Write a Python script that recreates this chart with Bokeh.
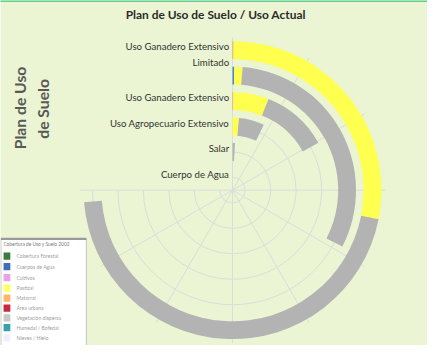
import numpy as np
from bokeh.plotting import figure
from bokeh.models import Range1d
from bokeh.embed import file_html
from bokeh.resources import INLINE
from bokeh.core.properties import value

# ---------------- data ----------------
TITLE = "Plan de Uso de Suelo / Uso Actual"
LEFT_TITLE = ["Plan de Uso", "de Suelo"]

# radial categories, outermost ring first
CATEGORIES = ["Uso Ganadero Extensivo\nLimitado", "", "Uso Ganadero Extensivo",
              "Uso Agropecuario Extensivo", "Salar", "Cuerpo de Agua"]

SERIES = ["Matorral", "Cuerpos de Agua", "Pastizal", "Vegetación dispersa"]
SERIES_COLORS = ["#f2a23c", "#4a86c8", "#ffff4f", "#b3b3b3"]
MATORRAL = [0.14, 0.0, 0.18, 0.0, 0.0, 0.0]
AGUA = [0.0, 0.27, 0.0, 0.0, 0.0, 0.0]
PASTIZAL = [33.6, 1.3, 7.0, 1.7, 0.0, 0.0]
VEGETACION = [54.7, 37.5, 13.2, 6.8, 1.0, 0.0]
SERIES_VALUES = [MATORRAL, AGUA, PASTIZAL, VEGETACION]

VALUE_MAX = 90      # value at the end of the 270 degree sweep
VALUE_STEP = 10     # angular grid step

LEGEND_TITLE = "Cobertura de Uso y Suelo 2002"
LEGEND_LABELS = ["Cobertura Forestal", "Cuerpos de Agua", "Cultivos", "Pastizal",
                 "Matorral", "Área urbana", "Vegetación dispersa",
                 "Humedal / Bofedal", "Nieves / Hielo"]
LEGEND_COLORS = ["#3d7a3d", "#3f6fb5", "#e8a2e8", "#ffff66", "#ffb566",
                 "#c8283c", "#c8c8c8", "#3aa0b0", "#f4eefa"]

# ---------------- layout ----------------
BG = "#ebf5d3"
W, H = 427, 345                 # figure size that fits the window
RW, RH = 443.0, 361.0           # design space (reference pixels)
S = W / RW                      # uniform scale
VH = H / S                      # visible design height
Y0 = (RH - VH) / 2

CX, CY = 240.7, -198.3          # chart centre (design px, y negated)
R_OUT = 158.5
N = len(CATEGORIES)
CELL = R_OUT / N
BAR = 0.7 * CELL
SWEEP = 1.5 * np.pi
FONT = value("Lato")


def px(v):
    return "%.2fpx" % (v * S)


def ang(v):
    return np.pi / 2 - np.asarray(v, dtype=float) / VALUE_MAX * SWEEP


p = figure(width=W, height=H, x_range=Range1d(0, RW), y_range=Range1d(-Y0 - VH, -Y0),
           output_backend="svg", toolbar_location=None,
           x_axis_location=None, y_axis_location=None, min_border=0,
           background_fill_color=BG, border_fill_color=BG, outline_line_color=None)
p.xgrid.visible = False
p.ygrid.visible = False

# top accent strip
p.quad(left=[-5], right=[RW + 5], top=[5], bottom=[-3], fill_color="#62cd8e", line_color=None)

r_mid = np.array([(N - 1 - i + 0.5) * CELL for i in range(N)])

# grid circles (arcs over the 270 degree sweep)
p.arc(x=[CX] * N, y=[CY] * N, radius=r_mid, start_angle=np.pi / 2,
      end_angle=float(ang(VALUE_MAX)), direction="clock",
      line_color="#dcdcdc", line_width=1)

# angular spokes
ticks = np.arange(0, VALUE_MAX + 0.001, VALUE_STEP)
ta = ang(ticks)
p.segment(x0=[CX] * len(ticks), y0=[CY] * len(ticks),
          x1=CX + R_OUT * np.cos(ta), y1=CY + R_OUT * np.sin(ta),
          line_color="#dcdcdc", line_width=1)

# stacked radial bars
base = np.zeros(N)
for vals, col in zip(SERIES_VALUES, SERIES_COLORS):
    vals = np.asarray(vals, dtype=float)
    top = base + vals
    m = vals > 0
    p.annular_wedge(x=[CX] * int(m.sum()), y=[CY] * int(m.sum()),
                    inner_radius=(r_mid - BAR / 2)[m], outer_radius=(r_mid + BAR / 2)[m],
                    start_angle=ang(base)[m], end_angle=ang(top)[m], direction="clock",
                    fill_color=col, line_color=None)
    base = top

# category labels
p.text(x=[CX - 3.5] * N, y=CY + r_mid + 10, text=CATEGORIES,
       text_align="right", text_baseline="top", text_font=FONT,
       text_font_size=px(10), text_color="#333333", text_line_height=1.3)

# title
p.text(x=[223.3], y=[-16], text=[TITLE], text_align="center", text_baseline="middle",
       text_font=FONT, text_font_style="bold", text_font_size=px(12.4), text_color="#2b2b2b")

# rotated left title
p.text(x=[20, 44], y=[-113, -114], text=LEFT_TITLE, angle=np.pi / 2,
       text_align="center", text_baseline="middle", text_font=FONT,
       text_font_style="bold", text_font_size=px(16.3), text_color="#595959")

# legend image (map legend)
p.quad(left=[0.5], right=[89], top=[-248], bottom=[-370],
       fill_color="white", line_color="#c4c4c4", line_width=1)
p.quad(left=[0.5], right=[89], top=[-248], bottom=[-250],
       fill_color="#9a9a9a", line_color=None)
p.text(x=[3], y=[-254.5], text=[LEGEND_TITLE], text_baseline="middle",
       text_font=FONT, text_font_size=px(5), text_color="#7a7a7a")
ly = -np.array([266.7, 277.7, 289.0, 300.0, 310.3, 320.6, 330.8, 341.0, 351.5])
p.rect(x=[6.7] * len(LEGEND_COLORS), y=ly, width=7, height=7.5,
       fill_color=LEGEND_COLORS, line_color=None)
p.text(x=[16.5] * len(LEGEND_LABELS), y=ly, text=LEGEND_LABELS, text_baseline="middle",
       text_font=FONT, text_font_size=px(5.3), text_color="#a0a0a0")

open("out.html", "w").write(file_html(p, INLINE))
